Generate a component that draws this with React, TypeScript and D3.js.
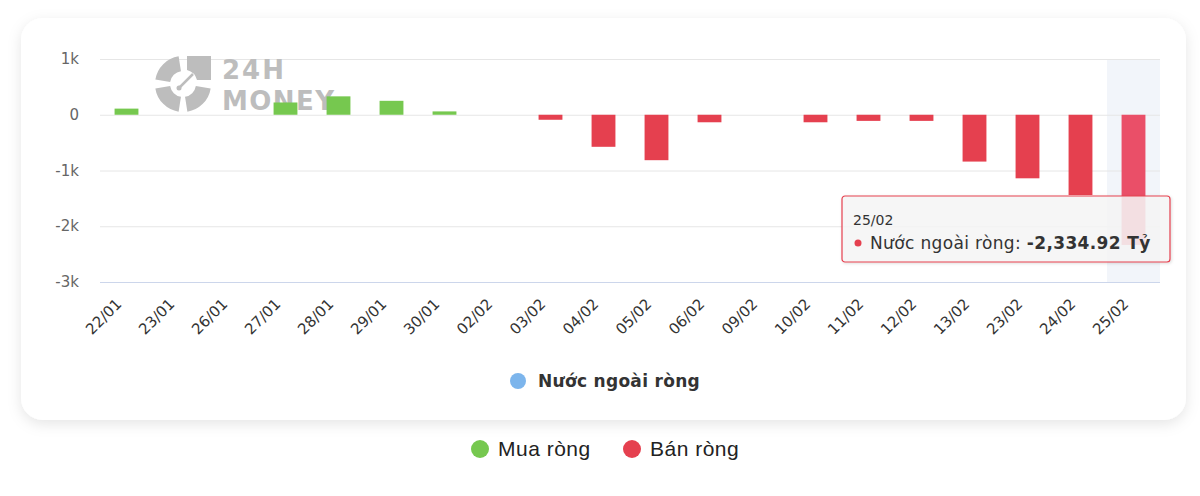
// @ts-nocheck
import React, { useEffect, useRef } from "react";
import * as d3 from "d3";

// dates on the x axis
const dates = [
  "22/01", "23/01", "26/01", "27/01", "28/01", "29/01", "30/01", "02/02",
  "03/02", "04/02", "05/02", "06/02", "09/02", "10/02", "11/02", "12/02",
  "13/02", "23/02", "24/02", "25/02",
];
// net foreign flow (tỷ đồng)
const netValues = [
  110, 0, 0, 220, 330, 250, 60, 0, -90, -575, -815, -135, 0, -135, -110, -110,
  -840, -1140, -1440, -2334.92,
];
const yTicks = [1000, 0, -1000, -2000, -3000];
const hoverIndex = 19;

const seriesName = "Nước ngoài ròng";
const legendItems = [
  { label: "Mua ròng", color: "#76c84f" },
  { label: "Bán ròng", color: "#e5404f" },
];

function App() {
  const ref = useRef(null);

  useEffect(() => {
    const W = 1200, H = 496;
    const margin = { left: 100, right: 40, top: 59, bottom: 214 };
    const svg = d3.select(ref.current);
    svg.selectAll("*").remove();

    const defs = svg.append("defs");
    const sh = defs.append("filter").attr("id", "cardShadow")
      .attr("x", "-5%").attr("y", "-5%").attr("width", "110%").attr("height", "115%");
    sh.append("feDropShadow").attr("dx", 0).attr("dy", 4).attr("stdDeviation", 7)
      .attr("flood-color", "#000").attr("flood-opacity", 0.1);
    const tsh = defs.append("filter").attr("id", "tipShadow");
    tsh.append("feDropShadow").attr("dx", 1).attr("dy", 1).attr("stdDeviation", 1.5)
      .attr("flood-color", "#000").attr("flood-opacity", 0.15);

    // card
    svg.append("rect").attr("x", 21).attr("y", 18).attr("width", 1165).attr("height", 402)
      .attr("rx", 22).attr("fill", "#fff").attr("filter", "url(#cardShadow)");

    const x = d3.scaleBand().domain(dates).range([margin.left, W - margin.right]).padding(0);
    const y = d3.scaleLinear().domain([-3000, 1000]).range([H - margin.bottom, margin.top]);
    const barW = x.bandwidth() * 0.45;

    // hover band
    svg.append("rect").attr("x", x(dates[hoverIndex])).attr("y", margin.top)
      .attr("width", x.bandwidth()).attr("height", y(-3000) - margin.top)
      .attr("fill", "rgba(204,214,235,0.25)");

    // grid
    svg.append("g").selectAll("line").data(yTicks).join("line")
      .attr("x1", margin.left).attr("x2", W - margin.right)
      .attr("y1", (d) => y(d) + 0.5).attr("y2", (d) => y(d) + 0.5)
      .attr("stroke", (d) => (d === -3000 ? "#ccd6eb" : "#e6e6e6")).attr("stroke-width", 1);

    // watermark
    const wm = svg.append("g").attr("fill", "#bdbdbd").attr("transform", "translate(183,84)");
    const arc = d3.arc().innerRadius(13).outerRadius(28);
    [[Math.PI * 1.55, Math.PI * 1.95], [Math.PI * 1.05, Math.PI * 1.45], [Math.PI * 0.55, Math.PI * 0.95]]
      .forEach(([s, e]) => wm.append("path").attr("d", arc({ startAngle: s, endAngle: e })));
    wm.append("path").attr("d", "M4,-28 L28,-28 L28,-4 L14,-4 A14,14 0 0 0 4,-14 Z");
    wm.append("line").attr("x1", -4).attr("y1", 4).attr("x2", 10).attr("y2", -10)
      .attr("stroke", "#bdbdbd").attr("stroke-width", 2.5);
    wm.append("circle").attr("cx", -4).attr("cy", 4).attr("r", 2.5);
    svg.append("text").attr("x", 222).attr("y", 79).text("24H")
      .attr("font-family", "DejaVu Sans").attr("font-weight", "bold").attr("font-size", 26)
      .attr("textLength", 62).attr("fill", "#bdbdbd");
    svg.append("text").attr("x", 222).attr("y", 110).text("MONEY")
      .attr("font-family", "DejaVu Sans").attr("font-weight", "bold").attr("font-size", 26)
      .attr("textLength", 112).attr("fill", "#bdbdbd");

    // bars
    const data = dates.map((d, i) => ({ date: d, v: netValues[i], i }));
    svg.append("g").selectAll("rect").data(data.filter((d) => d.v !== 0)).join("rect")
      .attr("x", (d) => x(d.date) + (x.bandwidth() - barW) / 2)
      .attr("width", barW)
      .attr("y", (d) => y(Math.max(0, d.v)))
      .attr("height", (d) => Math.abs(y(d.v) - y(0)))
      .attr("fill", (d) =>
        d.v > 0 ? legendItems[0].color : d.i === hoverIndex ? "#ea4f68" : legendItems[1].color);

    // y axis labels
    const fmt = (d) => (d === 0 ? "0" : (d < 0 ? "-" : "") + Math.abs(d / 1000) + "k");
    svg.append("g").selectAll("text").data(yTicks).join("text")
      .attr("x", 79).attr("y", (d) => y(d) + 5).attr("text-anchor", "end")
      .attr("font-family", "DejaVu Sans").attr("font-size", 15).attr("fill", "#666")
      .text(fmt);

    // x axis labels
    svg.append("g").selectAll("text").data(dates).join("text")
      .attr("text-anchor", "end")
      .attr("transform", (d) => `translate(${x(d) + x.bandwidth() / 2 - 4},${y(-3000) + 23}) rotate(-45)`)
      .attr("font-family", "DejaVu Sans").attr("font-size", 15).attr("fill", "#333")
      .text((d) => d);

    // inner legend
    svg.append("circle").attr("cx", 518).attr("cy", 381).attr("r", 8).attr("fill", "#7cb5ec");
    svg.append("text").attr("x", 538).attr("y", 387).text(seriesName)
      .attr("font-family", "DejaVu Sans").attr("font-weight", "bold").attr("font-size", 17)
      .attr("letter-spacing", 0.3).attr("fill", "#333");

    // tooltip
    const tip = svg.append("g").attr("transform", "translate(842,196)");
    tip.append("rect").attr("width", 328).attr("height", 66).attr("rx", 3)
      .attr("fill", "rgba(247,247,247,0.85)").attr("stroke", "#e5404f").attr("stroke-width", 1.2)
      .attr("filter", "url(#tipShadow)");
    tip.append("text").attr("x", 11).attr("y", 29).text(dates[hoverIndex])
      .attr("font-family", "DejaVu Sans").attr("font-size", 14).attr("fill", "#333");
    tip.append("circle").attr("cx", 16).attr("cy", 47).attr("r", 3.5).attr("fill", "#e5404f");
    const tl = tip.append("text").attr("x", 28).attr("y", 53)
      .attr("font-family", "DejaVu Sans").attr("font-size", 17).attr("letter-spacing", 0.35)
      .attr("fill", "#333");
    tl.append("tspan").text(seriesName + ": ");
    tl.append("tspan").attr("font-weight", "bold")
      .text("-" + d3.format(",.2f")(Math.abs(netValues[hoverIndex])) + " Tỷ");

    // outer legend
    const lg = svg.append("g");
    const lx = [480, 632];
    legendItems.forEach((it, i) => {
      lg.append("circle").attr("cx", lx[i]).attr("cy", 449).attr("r", 9).attr("fill", it.color);
      lg.append("text").attr("x", lx[i] + 18).attr("y", 456).text(it.label)
        .attr("font-family", "Liberation Sans, Arial, sans-serif").attr("font-size", 21)
        .attr("letter-spacing", 0.5).attr("fill", "#222");
    });
  }, []);

  return (
    <svg ref={ref} width={1200} height={496}
      style={{ position: "absolute", left: 0, top: 0, background: "#fff" }} />
  );
}

export default App;
